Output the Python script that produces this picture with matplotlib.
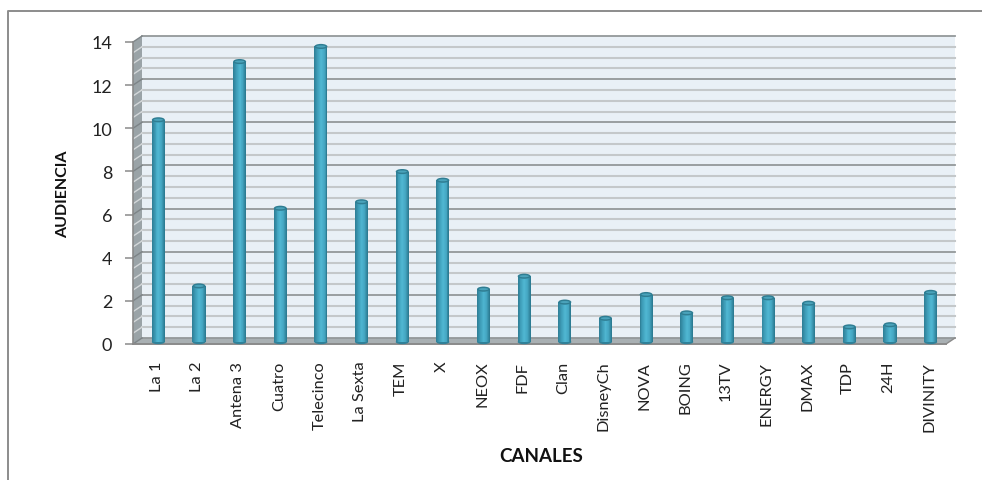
import matplotlib
matplotlib.use("Agg")
import matplotlib.pyplot as plt
import matplotlib.transforms as mtransforms
from matplotlib.colors import LinearSegmentedColormap
from matplotlib.patches import Ellipse, Polygon

canales = ["La 1", "La 2", "Antena 3", "Cuatro", "Telecinco", "La Sexta", "TEM", "X",
           "NEOX", "FDF", "Clan", "DisneyCh", "NOVA", "BOING", "13TV", "ENERGY",
           "DMAX", "TDP", "24H", "DIVINITY"]
audiencia = [10.3, 2.6, 13.0, 6.2, 13.7, 6.5, 7.9, 7.5, 2.45, 3.05,
             1.85, 1.1, 2.2, 1.35, 2.05, 2.05, 1.8, 0.7, 0.8, 2.3]
y_major = [0, 2, 4, 6, 8, 10, 12, 14]
y_minor = [0.5, 1, 1.5, 2.5, 3, 3.5, 4.5, 5, 5.5, 6.5, 7, 7.5, 8.5, 9, 9.5,
           10.5, 11, 11.5, 12.5, 13, 13.5]

W, H = 982, 481
plt.rcParams["font.family"] = ["Lato", "DejaVu Sans"]

fig = plt.figure(figsize=(W / 100, H / 100), dpi=100)
fig.patch.set_facecolor("white")

# outer frame of the pasted chart, only top and left show
frame = fig.add_axes([0, 0, 1, 1], zorder=0)
frame.set_xlim(0, W)
frame.set_ylim(H, 0)
frame.axis("off")
frame.plot([8, 8, 982], [481, 11.5, 11.5], color="#8c8c8c", lw=1.4)

# axes sit on the front plane of the fake 3D box
ax = fig.add_axes([133 / W, 1 - 345 / H, 813 / W, 302 / H], zorder=1)
ax.set_xlim(-0.5, 19.5)
ax.set_ylim(0, 14)
ax.patch.set_alpha(0)
for side in ax.spines.values():
    side.set_visible(False)

back = mtransforms.offset_copy(ax.transData, fig, x=9, y=6, units="dots")
mid = mtransforms.offset_copy(ax.transData, fig, x=5, y=2, units="dots")
dx = 9 / (813 / 20)
dy = 6 / (302 / 14)

# walls and floor
ax.add_patch(Polygon([(-0.5, 0), (19.5, 0), (19.5, 14), (-0.5, 14)], transform=back,
                     fc="#e9f0f6", ec="none", clip_on=False, zorder=1))
ax.add_patch(Polygon([(-0.5, 0), (-0.5 + dx, dy), (-0.5 + dx, 14 + dy), (-0.5, 14)],
                     fc="#9aa3a7", ec="none", clip_on=False, zorder=1))
ax.add_patch(Polygon([(-0.5, 0), (19.5, 0), (19.5 + dx, dy), (-0.5 + dx, dy)],
                     fc="#a9b0b3", ec="none", clip_on=False, zorder=1))

# grid on back wall and side wall
for v in y_minor:
    ax.plot([-0.5, 19.5], [v, v], transform=back, color="#c4c8ca", lw=1.5, clip_on=False, zorder=2)
    ax.plot([-0.5, -0.5 + dx], [v, v + dy], color="#d3d7d9", lw=1.0, clip_on=False, zorder=2)
for v in y_major:
    ax.plot([-0.5, 19.5], [v, v], transform=back, color="#93989a", lw=1.3, clip_on=False, zorder=2)
    ax.plot([-0.5, -0.5 + dx], [v, v + dy], color="#7d8487", lw=1.0, clip_on=False, zorder=2)

# front edges
ax.plot([-0.5, 19.5], [0, 0], color="#8a8a8a", lw=1.4, clip_on=False, zorder=3)
ax.plot([-0.5, -0.5], [0, 14], color="#8a8a8a", lw=1.2, clip_on=False, zorder=3)
ax.plot([19.5, 19.5 + dx], [0, dy], color="#8a8a8a", lw=1.0, clip_on=False, zorder=3)

# cylinders, built from narrow vertical strips
cyl = LinearSegmentedColormap.from_list("cyl", ["#2f8199", "#3f9fba", "#50b7d2", "#46a8c4", "#2c7c93"])
bar_w = 0.32
n_strips = 14
strip_w = bar_w / n_strips
for k in range(n_strips):
    offset = -bar_w / 2 + (k + 0.5) * strip_w
    ax.bar([i + offset for i in range(len(audiencia))], audiencia, width=strip_w * 1.05,
           color=cyl(k / (n_strips - 1)), lw=0, transform=mid, clip_on=False, zorder=4)
for i, val in enumerate(audiencia):
    ax.add_patch(Ellipse((i, val), bar_w, 0.24, fc="#2f7d92", ec="none", transform=mid,
                         clip_on=False, zorder=5))
    ax.add_patch(Ellipse((i, val), bar_w * 0.72, 0.1, fc="#4aa3bb", ec="none", transform=mid,
                         clip_on=False, zorder=6))
    ax.add_patch(Ellipse((i, 0), bar_w, 0.2, fc="#2f8199", ec="none", transform=mid,
                         clip_on=False, zorder=3.5))

ax.set_yticks(y_major)
ax.set_xticks(range(len(canales)))
ax.set_xticklabels(canales, rotation=90, fontsize=11.8, color="#222222")
ax.tick_params(axis="x", length=0, pad=12)
ax.tick_params(axis="y", length=6, width=1.1, color="#8a8a8a", labelsize=13, labelcolor="#222222", pad=9)

# category labels line up with the bars, not the front plane
shift = mtransforms.ScaledTranslation(3.5 / 100, 0, fig.dpi_scale_trans)
for lab in ax.get_xticklabels():
    lab.set_transform(lab.get_transform() + shift)

fig.text(63 / W, 1 - 194 / H, "AUDIENCIA", rotation=90, ha="center", va="center",
         fontsize=11.5, fontweight="bold", color="#111111")
fig.text(541 / W, 1 - 457 / H, "CANALES", ha="center", va="center",
         fontsize=13.5, fontweight="bold", color="#111111")

fig.savefig("out.png", dpi=100)
